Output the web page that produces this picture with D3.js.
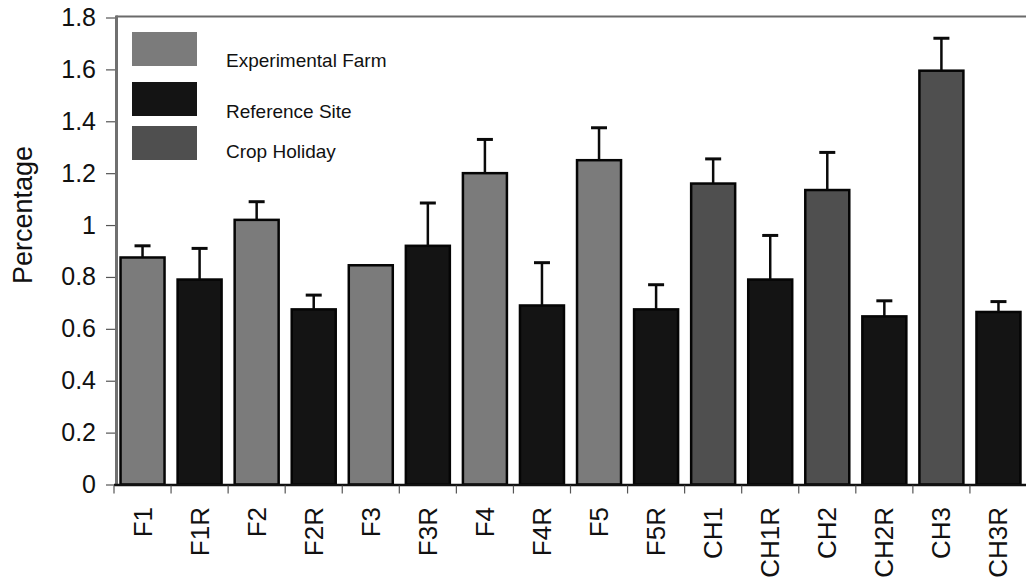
<!DOCTYPE html>
<html>
<head>
<meta charset="utf-8">
<script src="https://cdn.jsdelivr.net/npm/d3@7"></script>
<style>
  html, body { margin: 0; padding: 0; background: #fff; }
  svg { display: block; font-family: "Liberation Sans", Arial, sans-serif; }
</style>
</head>
<body>
<svg id="chart" width="1026" height="585"></svg>
<script>
// Sites along the x axis
const categories = ["F1", "F1R", "F2", "F2R", "F3", "F3R", "F4", "F4R", "F5", "F5R",
                    "CH1", "CH1R", "CH2", "CH2R", "CH3", "CH3R"];
// Group each site belongs to
const groups = ["farm", "ref", "farm", "ref", "farm", "ref", "farm", "ref", "farm", "ref",
                "crop", "ref", "crop", "ref", "crop", "ref"];
// Mean percentage per site
const values = [0.875, 0.79, 1.02, 0.675, 0.845, 0.92, 1.20, 0.69, 1.25, 0.675,
                1.16, 0.79, 1.135, 0.648, 1.595, 0.665];
// Upper error (standard error) per site
const errors = [0.045, 0.12, 0.07, 0.055, 0.0, 0.165, 0.13, 0.165, 0.125, 0.095,
                0.095, 0.17, 0.145, 0.06, 0.125, 0.04];
// Legend entries
const legendKeys = ["farm", "ref", "crop"];
const legendLabels = ["Experimental Farm", "Reference Site", "Crop Holiday"];
// Y axis ticks
const yTicks = [0, 0.2, 0.4, 0.6, 0.8, 1, 1.2, 1.4, 1.6, 1.8];

const fill = { farm: "#7b7b7b", ref: "#141414", crop: "#4f4f4f" };

const svg = d3.select("#chart");
const plotLeft = 114, plotRight = 1027, plotTop = 17.5, plotBottom = 484.5;

const x = d3.scaleBand().domain(categories).range([plotLeft, plotRight]).padding(0);
const y = d3.scaleLinear().domain([0, 1.8]).range([plotBottom, plotTop]);
const barW = 44;
const barOff = (x.bandwidth() - barW) / 2;

// Frame: top border and left axis line
svg.append("line")
  .attr("x1", plotLeft + 2).attr("x2", 1026).attr("y1", y(1.8) - 1).attr("y2", y(1.8) - 1)
  .attr("stroke", "#6a6a6a").attr("stroke-width", 2);
svg.append("line")
  .attr("x1", plotLeft + 2.5).attr("x2", plotLeft + 2.5).attr("y1", y(1.8) - 2).attr("y2", plotBottom + 1)
  .attr("stroke", "#707070").attr("stroke-width", 3);

// Y axis ticks and labels
const yAxis = svg.append("g").attr("transform", `translate(${plotLeft + 1},0)`)
  .call(d3.axisLeft(y).tickValues(yTicks).tickFormat(d => String(d)).tickSize(9).tickPadding(10));
yAxis.select(".domain").remove();
yAxis.selectAll(".tick line").attr("stroke", "#555").attr("stroke-width", 1.2);
yAxis.selectAll(".tick text").attr("font-size", 25).attr("fill", "#111")
  .attr("font-family", "Liberation Sans, Arial, sans-serif");

// Bars
svg.append("g").selectAll("rect")
  .data(categories)
  .join("rect")
  .attr("x", d => x(d) + barOff)
  .attr("width", barW)
  .attr("y", (d, i) => y(values[i]))
  .attr("height", (d, i) => y(0) - y(values[i]))
  .attr("fill", (d, i) => fill[groups[i]])
  .attr("stroke", "#050505")
  .attr("stroke-width", 2.5);

// Upper error bars
const eb = svg.append("g").selectAll("g")
  .data(categories.map((c, i) => ({ c, v: values[i], e: errors[i] })).filter(d => d.e > 0))
  .join("g")
  .attr("stroke", "#0a0a0a");
eb.append("line")
  .attr("x1", d => x(d.c) + x.bandwidth() / 2)
  .attr("x2", d => x(d.c) + x.bandwidth() / 2)
  .attr("y1", d => y(d.v))
  .attr("y2", d => y(d.v + d.e))
  .attr("stroke-width", 2.5);
eb.append("line")
  .attr("x1", d => x(d.c) + x.bandwidth() / 2 - 8)
  .attr("x2", d => x(d.c) + x.bandwidth() / 2 + 8)
  .attr("y1", d => y(d.v + d.e))
  .attr("y2", d => y(d.v + d.e))
  .attr("stroke-width", 3);

// X axis baseline, ticks at band edges, rotated labels
svg.append("line")
  .attr("x1", plotLeft).attr("x2", 1026).attr("y1", plotBottom + 0.5).attr("y2", plotBottom + 0.5)
  .attr("stroke", "#111").attr("stroke-width", 2.5);
svg.append("g").selectAll("line")
  .data(categories)
  .join("line")
  .attr("x1", d => x(d)).attr("x2", d => x(d))
  .attr("y1", plotBottom + 1).attr("y2", plotBottom + 9)
  .attr("stroke", "#555").attr("stroke-width", 1.2);
svg.append("g").selectAll("text")
  .data(categories)
  .join("text")
  .attr("transform", d => `translate(${x(d) + x.bandwidth() / 2 + 9},507) rotate(-90)`)
  .attr("text-anchor", "end")
  .attr("font-size", 26)
  .attr("fill", "#111")
  .text(d => d);

// Y axis title
svg.append("text")
  .attr("transform", "translate(32,215) rotate(-90)")
  .attr("text-anchor", "middle")
  .attr("font-size", 27)
  .attr("fill", "#111")
  .text("Percentage");

// Legend
const swatchY = [32, 82, 126];
const textY = [67, 118, 158];
const legend = svg.append("g");
legend.selectAll("rect")
  .data(legendKeys)
  .join("rect")
  .attr("x", 132).attr("width", 65)
  .attr("y", (d, i) => swatchY[i]).attr("height", 34)
  .attr("fill", d => fill[d]);
legend.selectAll("text")
  .data(legendLabels)
  .join("text")
  .attr("x", 226)
  .attr("y", (d, i) => textY[i])
  .attr("font-size", 19)
  .attr("fill", "#111")
  .text(d => d);
</script>
</body>
</html>
